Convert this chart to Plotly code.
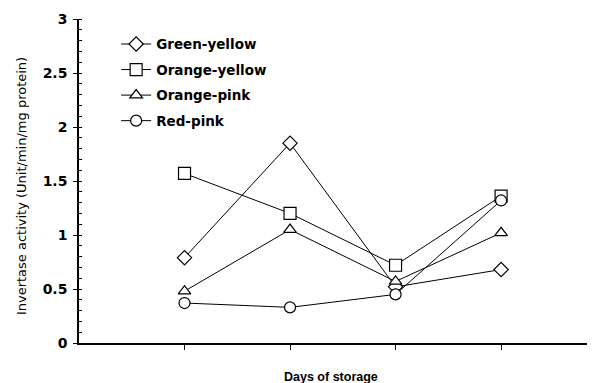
import plotly.graph_objects as go

days = [1, 2, 3, 4]
series_names = ["Green-yellow", "Orange-yellow", "Orange-pink", "Red-pink"]
green_yellow = [0.79, 1.85, 0.52, 0.68]
orange_yellow = [1.57, 1.20, 0.72, 1.36]
orange_pink = [0.48, 1.05, 0.57, 1.02]
red_pink = [0.37, 0.33, 0.45, 1.32]
y_ticks = [0, 0.5, 1, 1.5, 2, 2.5, 3]
y_tick_labels = ["0", "0.5", "1", "1.5", "2", "2.5", "3"]
x_title = "Days of storage"
y_title = "Invertase activity (Unit/min/mg protein)"

symbols = ["diamond", "square", "triangle-up", "circle"]
sizes = [11, 12, 11, 11]
values = [green_yellow, orange_yellow, orange_pink, red_pink]

fig = go.Figure()
for name, vals, sym, sz in zip(series_names, values, symbols, sizes):
    fig.add_trace(go.Scatter(
        x=days, y=vals, name=name, mode="lines+markers",
        legendgroup=name,
        line=dict(color="black", width=1),
        marker=dict(symbol=sym, size=sz, color="white",
                    line=dict(color="black", width=1.2)),
    ))

bold_font = "DejaVu Sans, Verdana, sans-serif"
# page body has an 8px margin, so the figure is 8px smaller on each axis
fig.update_layout(
    width=587, height=375,
    margin=dict(l=71, r=0, t=11, b=40, autoexpand=False),
    paper_bgcolor="white", plot_bgcolor="white",
    font=dict(family=bold_font, color="black"),
    showlegend=True,
    legend=dict(x=0.072, y=0.97, xanchor="left", yanchor="top",
                bgcolor="rgba(0,0,0,0)", tracegroupgap=5,
                font=dict(size=13.5, family=bold_font, weight="bold"),
                itemwidth=30),
    xaxis=dict(range=[0, 4.89], showline=True, linecolor="black", linewidth=1.5,
               tickmode="array", tickvals=days, showticklabels=False,
               ticks="outside", ticklen=5, tickcolor="black",
               showgrid=False, zeroline=False, automargin=False),
    yaxis=dict(range=[0, 3], showline=True, linecolor="black", linewidth=1.5,
               tickmode="array", tickvals=y_ticks, ticktext=y_tick_labels,
               ticks="outside", ticklen=4, tickcolor="black",
               ticklabelstandoff=3,
               tickfont=dict(size=14, weight="bold", family=bold_font),
               minor=dict(dtick=0.1, ticks="inside", ticklen=3, tickcolor="black",
                          showgrid=False),
               showgrid=False, zeroline=False, automargin=False),
)
fig.add_annotation(text="<b>" + x_title + "</b>", xref="paper", yref="paper",
                   x=0.488, y=-0.105, xanchor="center", yanchor="middle",
                   showarrow=False,
                   font=dict(size=12.5, family="Liberation Sans, Arial, sans-serif"))
fig.add_annotation(text=y_title, xref="paper", yref="paper",
                   x=-0.11, y=0.485, xanchor="center", yanchor="middle",
                   textangle=-90, showarrow=False,
                   font=dict(size=13, family="DejaVu Sans, sans-serif"))

fig.write_html("out.html")
